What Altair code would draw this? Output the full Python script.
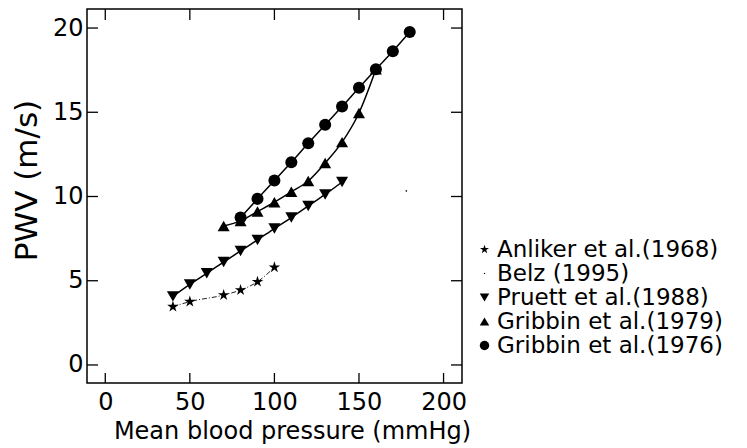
import altair as alt
import pandas as pd

series_names = ["Anliker et al.(1968)", "Belz (1995)", "Pruett et al.(1988)",
                "Gribbin et al.(1979)", "Gribbin et al.(1976)"]

anliker_x = [40, 50, 70, 80, 90, 100]
anliker_y = [3.46, 3.76, 4.15, 4.45, 4.94, 5.80]
belz_x = [178]
belz_y = [10.33]
pruett_x = [40, 50, 60, 70, 80, 90, 100, 110, 120, 130, 140]
pruett_y = [4.07, 4.78, 5.44, 6.11, 6.77, 7.42, 8.10, 8.75, 9.44, 10.12, 10.86]
g79_x = [70, 80, 90, 100, 110, 120, 130, 140, 150, 160]
g79_y = [8.25, 8.55, 9.11, 9.66, 10.28, 10.92, 11.99, 13.23, 14.96, 17.55]
g76_x = [80, 90, 100, 110, 120, 130, 140, 150, 160, 170, 180]
g76_y = [8.75, 9.86, 10.95, 12.03, 13.16, 14.26, 15.34, 16.46, 17.55, 18.62, 19.76]

x_ticks = [0, 50, 100, 150, 200]
y_ticks = [0, 5, 10, 15, 20]

rows = []
for name, xs_, ys_ in zip(series_names,
                          [anliker_x, belz_x, pruett_x, g79_x, g76_x],
                          [anliker_y, belz_y, pruett_y, g79_y, g76_y]):
    for a, b in zip(xs_, ys_):
        rows.append({"series": name, "bp": a, "pwv": b})
df = pd.DataFrame(rows)
xt = pd.DataFrame({"bp": x_ticks})
yt = pd.DataFrame({"pwv": y_ticks})

FONT = "DejaVu Sans"
W, H = 375, 374

star = ("M0,-1L0.2245,-0.309L0.9511,-0.309L0.3633,0.118L0.5878,0.809L0,0.382"
        "L-0.5878,0.809L-0.3633,0.118L-0.9511,-0.309L-0.2245,-0.309Z")
dot = "M-0.12,-0.12L0.12,-0.12L0.12,0.12L-0.12,0.12Z"
shapes = [star, dot, "triangle-down", "triangle-up", "circle"]

xs = alt.Scale(domain=[-10.8, 210.9], nice=False, zero=False)
ys = alt.Scale(domain=[-1.07, 21.13], nice=False, zero=False)

x_axis = alt.Axis(values=x_ticks, ticks=False, domain=False, grid=False,
                  labelFontSize=24, labelFont=FONT, labelColor="black",
                  labelPadding=7, title="Mean blood pressure (mmHg)",
                  titleFontSize=24, titleFont=FONT, titleFontWeight="normal",
                  titleColor="black", titlePadding=5, titleX=205)
y_axis = alt.Axis(values=y_ticks, ticks=False, domain=False, grid=False,
                  labelFontSize=24, labelFont=FONT, labelColor="black",
                  labelPadding=4, title="PWV (m/s)",
                  titleFontSize=31, titleFont=FONT, titleFontWeight="normal",
                  titleColor="black", titlePadding=9, titleY=171)

X = alt.X("bp:Q", scale=xs, axis=x_axis)
Y = alt.Y("pwv:Q", scale=ys, axis=y_axis)

lines_solid = alt.Chart(df).transform_filter(
    (alt.datum.series != series_names[0]) & (alt.datum.series != series_names[1])
).mark_line(color="black", strokeWidth=1.5, interpolate="monotone").encode(
    x=X, y=Y, detail="series:N",
)

line_dash = alt.Chart(df).transform_filter(
    alt.datum.series == series_names[0]
).mark_line(color="#222222", strokeWidth=1, strokeDash=[5, 2, 1, 2],
            interpolate="monotone").encode(x=X, y=Y)

points = alt.Chart(df).mark_point(filled=True, opacity=1, color="black", size=145).encode(
    x=X, y=Y,
    shape=alt.Shape("series:N", scale=alt.Scale(domain=series_names, range=shapes),
                    legend=alt.Legend(orient="none", legendX=386, legendY=229,
                                      title=None, labelFontSize=23, labelFont=FONT,
                                      labelColor="black", symbolSize=90, labelLimit=0,
                                      symbolFillColor="black", symbolStrokeColor="black",
                                      symbolStrokeWidth=0, rowPadding=0,
                                      labelOffset=1, padding=0)),
)

tick_style = dict(color="black", strokeWidth=1.3)
t_bottom = alt.Chart(xt).mark_rule(**tick_style).encode(
    x=X, y=alt.value(H), y2=alt.value(H - 10))
t_top = alt.Chart(xt).mark_rule(**tick_style).encode(
    x=X, y=alt.value(0), y2=alt.value(11))
t_left = alt.Chart(yt).mark_rule(**tick_style).encode(
    y=Y, x=alt.value(0), x2=alt.value(11))
t_right = alt.Chart(yt).mark_rule(**tick_style).encode(
    y=Y, x=alt.value(W), x2=alt.value(W - 11))

chart = alt.layer(lines_solid, line_dash, points, t_bottom, t_top, t_left, t_right).properties(
    width=W, height=H,
    padding={"left": 87, "top": 9, "right": 285, "bottom": 65},
    autosize=alt.AutoSizeParams(type="none"),
    background="white",
).configure_view(stroke="black", strokeWidth=1.5)

chart.save("out.html", embed_options={"renderer": "svg", "actions": False})
